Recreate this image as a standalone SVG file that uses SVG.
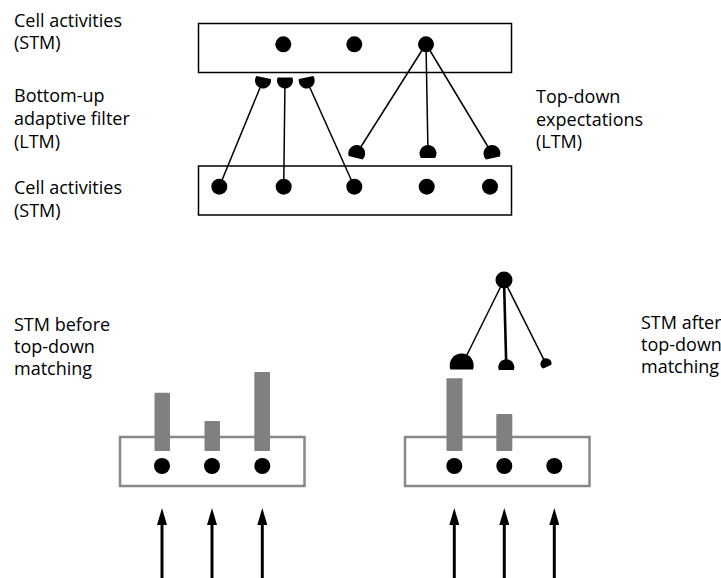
<svg xmlns="http://www.w3.org/2000/svg" xmlns:xlink="http://www.w3.org/1999/xlink" width="721" height="578" viewBox="0 0 721 578">
<style>
  .lbl { font-family: "Open Sans", "Liberation Sans", sans-serif; font-size: 18px; fill: #000; }
  .box { fill: none; stroke: #000; stroke-width: 1.5; }
  .gbox { fill: none; stroke: #888; stroke-width: 2.5; }
  .dot { fill: #000; }
  .bar { fill: #808080; }
  .ln { stroke: #000; stroke-width: 1.5; fill: none; }
  .arr { stroke: #000; stroke-width: 3; fill: none; marker-end: url(#ah); }
  .dome { fill: #000; }
</style>
<defs>
  <marker id="ah" markerUnits="userSpaceOnUse" markerWidth="17" markerHeight="10" refX="10" refY="5" viewBox="0 0 17 10" orient="auto">
    <path d="M0,0 L17,5 L0,10 Z" fill="#000"/>
  </marker>
  <path id="domeDown" d="M-7.42,-3 A8 8 0 1 0 7.42,-3 Z"/>
  <path id="domeUp" d="M-7.2,4.5 A8.5 8.5 0 1 1 7.2,4.5 Z"/>
</defs>

<g id="labels">
  <text class="lbl" x="14" y="27">Cell activities</text>
  <text class="lbl" x="14" y="49">(STM)</text>
  <text class="lbl" x="14" y="102">Bottom-up</text>
  <text class="lbl" x="14" y="125">adaptive filter</text>
  <text class="lbl" x="14" y="148">(LTM)</text>
  <text class="lbl" x="14" y="194">Cell activities</text>
  <text class="lbl" x="14" y="217">(STM)</text>
  <text class="lbl" x="536" y="103">Top-down</text>
  <text class="lbl" x="536" y="126">expectations</text>
  <text class="lbl" x="536" y="148">(LTM)</text>
  <text class="lbl" x="14" y="331">STM before</text>
  <text class="lbl" x="14" y="353">top-down</text>
  <text class="lbl" x="14" y="375">matching</text>
  <text class="lbl" x="641" y="329">STM after</text>
  <text class="lbl" x="641" y="351">top-down</text>
  <text class="lbl" x="641" y="373">matching</text>
</g>

<g id="connectors">
  <line class="ln" x1="263" y1="80.5" x2="219.3" y2="186.7"/>
  <line class="ln" x1="285" y1="80.5" x2="283.7" y2="186.7"/>
  <line class="ln" x1="306.7" y1="80.5" x2="354.3" y2="186.7"/>
  <line class="ln" x1="426" y1="44" x2="356.7" y2="153.5"/>
  <line class="ln" x1="426" y1="44" x2="428" y2="153.5"/>
  <line class="ln" x1="426" y1="44" x2="492" y2="153.5"/>
  <line class="ln" x1="504" y1="280" x2="461.7" y2="365.5"/>
  <line class="ln" style="stroke-width:2.6" x1="504" y1="280" x2="506.3" y2="367.3"/>
  <line class="ln" x1="504" y1="280" x2="546" y2="363.8"/>
  <line class="arr" x1="162" y1="578" x2="162" y2="515"/>
  <line class="arr" x1="212" y1="578" x2="212" y2="515"/>
  <line class="arr" x1="262.3" y1="578" x2="262.3" y2="515"/>
  <line class="arr" x1="454.3" y1="578" x2="454.3" y2="515"/>
  <line class="arr" x1="504.3" y1="578" x2="504.3" y2="515"/>
  <line class="arr" x1="554.3" y1="578" x2="554.3" y2="515"/>
</g>

<g id="stm-top">
  <rect class="box" x="198.5" y="23.5" width="313" height="49"/>
  <circle class="dot" cx="283.3" cy="44.3" r="8"/>
  <circle class="dot" cx="354.3" cy="44.3" r="8"/>
  <circle class="dot" cx="426" cy="44.3" r="8"/>
</g>

<g id="bottom-up-filter">
  <use xlink:href="#domeDown" class="dome" transform="translate(263,80.5) rotate(12)"/>
  <use xlink:href="#domeDown" class="dome" transform="translate(285,80.5)"/>
  <use xlink:href="#domeDown" class="dome" transform="translate(306.7,80.5) rotate(-12)"/>
</g>

<g id="top-down-expectations">
  <use xlink:href="#domeUp" class="dome" transform="translate(356.7,153.5) rotate(14)"/>
  <use xlink:href="#domeUp" class="dome" transform="translate(428,153.5)"/>
  <use xlink:href="#domeUp" class="dome" transform="translate(492,153.5) rotate(-12)"/>
</g>

<g id="stm-bottom">
  <rect class="box" x="198.5" y="166" width="313" height="49"/>
  <circle class="dot" cx="219.3" cy="186.7" r="8"/>
  <circle class="dot" cx="283.7" cy="186.7" r="8"/>
  <circle class="dot" cx="354.3" cy="186.7" r="8"/>
  <circle class="dot" cx="426.7" cy="186.7" r="8"/>
  <circle class="dot" cx="490" cy="186.7" r="8"/>
</g>

<g id="stm-before">
  <rect class="gbox" x="120" y="437" width="184.5" height="49"/>
  <rect class="bar" x="154.5" y="392.7" width="15.5" height="58.3" rx="1"/>
  <rect class="bar" x="204.5" y="421" width="15.5" height="30" rx="1"/>
  <rect class="bar" x="254.3" y="372" width="15.7" height="79" rx="1"/>
  <circle class="dot" cx="162" cy="466" r="8"/>
  <circle class="dot" cx="212" cy="466" r="8"/>
  <circle class="dot" cx="262.3" cy="466" r="8"/>
</g>

<g id="stm-after">
  <rect class="gbox" x="405" y="437" width="184.5" height="49"/>
  <rect class="bar" x="446.5" y="378.3" width="16" height="72.7" rx="1"/>
  <rect class="bar" x="496.3" y="414" width="16" height="37" rx="1"/>
  <circle class="dot" cx="454.3" cy="466" r="8"/>
  <circle class="dot" cx="504.3" cy="466" r="8"/>
  <circle class="dot" cx="554.3" cy="466" r="8"/>
</g>

<g id="top-down-tree">
  <circle class="dot" cx="504" cy="280" r="8.5"/>
  <path class="dome" d="M450.4,369.5 A12 12 0 1 1 473,369.5 Z"/>
  <path class="dome" d="M498.8,370 A8 8 0 1 1 513.8,370 Z"/>
  <path class="dome" transform="translate(546,363.8) rotate(-25)" d="M-4.5,3.2 A5.5 5.5 0 1 1 4.5,3.2 Z"/>
</g>
</svg>
